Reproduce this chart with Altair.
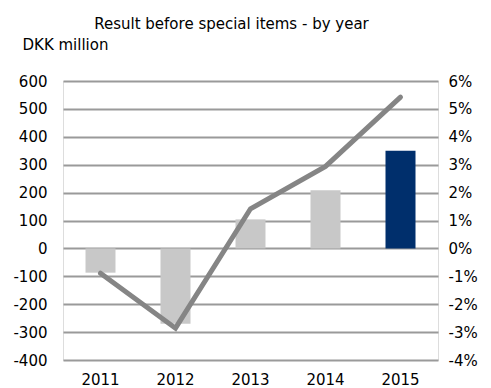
import altair as alt
import pandas as pd

years = ["2011", "2012", "2013", "2014", "2015"]
result = [-87, -270, 104, 208, 350]          # DKK million (bars)
margin = [-0.0089, -0.0286, 0.0142, 0.0294, 0.0542]  # percent (line)

df = pd.DataFrame({"year": years, "result": result, "margin": margin})

FONT = "DejaVu Sans"
FS = 15
x = alt.X("year:N", title=None, sort=years,
          scale=alt.Scale(paddingInner=0, paddingOuter=0),
          axis=alt.Axis(labelAngle=0, domain=False, ticks=False, labelPadding=12,
                        labelFontSize=FS, labelFont=FONT, labelColor="#000"))

bars = alt.Chart(df).mark_bar(size=30).encode(
    x=x,
    y=alt.Y("result:Q", scale=alt.Scale(domain=[-400, 600], nice=False),
            axis=alt.Axis(values=list(range(-400, 601, 100)), title="DKK million",
                          labelExpr="replace(datum.label, '\u2212', '-')",
                          titleAngle=0, titleX=-41, titleY=-32, titleAlign="left",
                          titleFontSize=FS, titleFont=FONT, titleFontWeight="normal",
                          titleColor="#000", titleBaseline="alphabetic",
                          domain=False, ticks=False, labelPadding=16,
                          labelFontSize=FS, labelFont=FONT, labelColor="#000",
                          grid=True, gridColor="#9a9a9a", gridWidth=2)),
    color=alt.condition(alt.datum.year == "2015", alt.value("#002f6c"), alt.value("#c8c8c8")),
)

line = alt.Chart(df).mark_line(color="#858585", strokeWidth=5, strokeCap="round",
                               strokeJoin="miter").encode(
    x=x,
    y=alt.Y("margin:Q", scale=alt.Scale(domain=[-0.04, 0.06], nice=False),
            axis=alt.Axis(orient="right", values=[i / 100 for i in range(-4, 7)],
                          format=".0%", title=None, domain=False, ticks=False,
                          labelExpr="replace(datum.label, '\u2212', '-')",
                          labelPadding=10, labelFontSize=FS, labelFont=FONT,
                          labelColor="#000", grid=False)),
)

chart = alt.layer(bars, line).resolve_scale(y="independent").properties(
    width=375, height=279,
    autosize=alt.AutoSizeParams(type="none"),
    padding={"left": 63, "top": 81, "right": 53, "bottom": 28},
    title=alt.TitleParams("Result before special items - by year", anchor="middle",
                          fontSize=FS, font=FONT, fontWeight="normal", color="#000",
                          offset=5, dx=-19),
).configure_view(stroke=None).configure(background="white")

chart.save("out.html", embed_options={"renderer": "svg", "actions": False})
